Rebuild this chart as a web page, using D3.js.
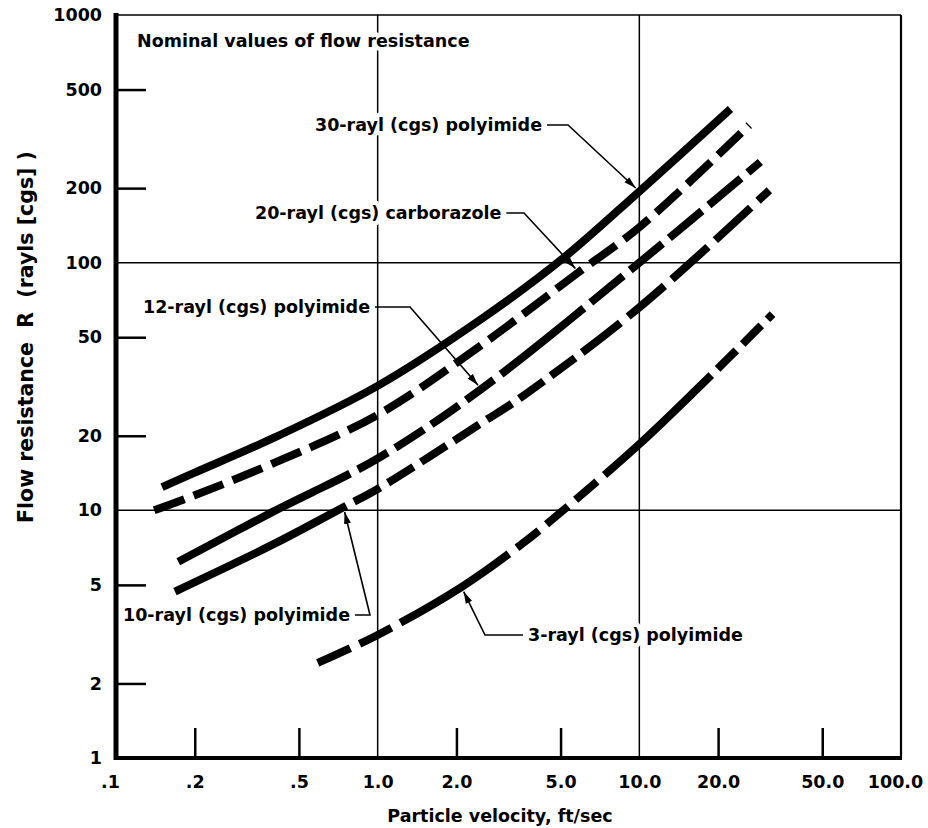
<!DOCTYPE html>
<html>
<head>
<meta charset="utf-8">
<script src="https://cdn.jsdelivr.net/npm/d3@7"></script>
<style>
body { margin: 0; background: #fff; }
text { font-family: "DejaVu Sans", sans-serif; font-weight: bold; fill: #000; }
</style>
</head>
<body>
<div id="chart"></div>
<script>
// values (velocity ft/sec, flow resistance rayls cgs)
const curveNames = ["30-rayl (cgs) polyimide", "20-rayl (cgs) carborazole", "12-rayl (cgs) polyimide",
    "10-rayl (cgs) polyimide", "3-rayl (cgs) polyimide"];

const velocity30 = [0.15, 0.2, 0.4, 1, 2.49, 5.05, 10, 22.3];
const resistance30 = [12.4, 14.2, 19.6, 31.8, 59.2, 103, 194, 417];

const velocity20 = [0.14, 0.2, 0.4, 1, 2.49, 5.87, 10, 26.3];
const resistance20 = [10, 11.5, 15.5, 24.3, 46.5, 91.6, 139, 359];

const velocity12 = [0.173, 0.4, 1, 2.49, 10, 29];
const resistance12 = [6.2, 9.9, 16.2, 30.9, 100, 255];

const velocity10 = [0.168, 0.4, 0.74, 1, 2.49, 3.55, 10, 31.4];
const resistance10 = [4.7, 7.3, 10.3, 12.2, 22.5, 28.7, 66, 196];

const velocity3 = [0.59, 1, 2.09, 3.55, 4.92, 10, 17.4, 32.3];
const resistance3 = [2.42, 3.14, 4.9, 7.3, 9.66, 18.5, 32.4, 62];

// the velocity each callout arrow points at
const calloutAt = [10, 5.87, 2.49, 0.74, 2.09];

const xTicks = [0.1, 0.2, 0.5, 1, 2, 5, 10, 20, 50, 100];
const xTickLabels = [".1", ".2", ".5", "1.0", "2.0", "5.0", "10.0", "20.0", "50.0", "100.0"];
const yTicks = [1, 2, 5, 10, 20, 50, 100, 200, 500, 1000];
const yTickLabels = ["1", "2", "5", "10", "20", "50", "100", "200", "500", "1000"];
const xMinor = [0.2, 0.5, 2, 5, 20, 50];
const yMinor = [2, 5, 20, 50, 200, 500];
const xGrid = [1, 10];
const yGrid = [10, 100];

const series = [
    [velocity30, resistance30], [velocity20, resistance20], [velocity12, resistance12],
    [velocity10, resistance10], [velocity3, resistance3]
].map(([v, r], i) => ({ name: curveNames[i], points: v.map((d, j) => ({ v: d, r: r[j] })) }));

// line styles: pieces along the curve, up to a velocity; on = 0 means solid
const curveStyles = [
    [{ to: null, on: 0 }],
    [{ to: null, on: 32, off: 10 }],
    [{ to: 0.6, on: 0 }, { to: 2.49, on: 34, off: 9 }, { to: 4.6, on: 0 }, { to: null, on: 42, off: 9 }],
    [{ to: 0.6, on: 0 }, { to: 5, on: 30, off: 9 }, { to: null, on: 48, off: 10 }],
    [{ to: 0.95, on: 36, off: 10 }, { to: 2.6, on: 0 }, { to: 6, on: 28, off: 10 }, { to: 16, on: 0 }, { to: null, on: 26, off: 9 }]
];

// callout text placement
const callouts = [
    { tx: 315, ty: 131, side: "right", elbowX: 568 },
    { tx: 255, ty: 219, side: "right", elbowX: 524 },
    { tx: 143, ty: 313, side: "right", elbowX: 410 },
    { tx: 123, ty: 621, side: "right", elbowX: 370 },
    { tx: 528, ty: 641, side: "left", elbowX: 485 }
];

const width = 928, height = 828;
const fontSize = 17.5;

const x = d3.scaleLog().domain([0.1, 100]).range([116, 901]);
const y = d3.scaleLog().domain([1, 1000]).range([758, 15]);

const svg = d3.select("#chart").append("svg")
    .attr("width", width)
    .attr("height", height);

svg.append("rect").attr("width", width).attr("height", height).attr("fill", "#fff");

// grid lines
svg.append("g").selectAll("line").data(xGrid).join("line")
    .attr("x1", d => x(d)).attr("x2", d => x(d))
    .attr("y1", y(1000)).attr("y2", y(1))
    .attr("stroke", "#000").attr("stroke-width", 1.5);

svg.append("g").selectAll("line").data(yGrid).join("line")
    .attr("x1", x(0.1)).attr("x2", x(100))
    .attr("y1", d => y(d)).attr("y2", d => y(d))
    .attr("stroke", "#000").attr("stroke-width", 1.5);

// frame top / right
svg.append("line")
    .attr("x1", x(0.1)).attr("x2", x(100)).attr("y1", y(1000)).attr("y2", y(1000))
    .attr("stroke", "#000").attr("stroke-width", 1.5);
svg.append("line")
    .attr("x1", x(100)).attr("x2", x(100)).attr("y1", y(1000)).attr("y2", y(1))
    .attr("stroke", "#000").attr("stroke-width", 2.2);

// inner tick marks
svg.append("g")
    .attr("transform", `translate(${x(0.1)},0)`)
    .call(d3.axisRight(y).tickValues(yMinor).tickSize(30).tickFormat(""))
    .call(g => g.select(".domain").remove())
    .call(g => g.selectAll("line").attr("stroke-width", 2.5));

svg.append("g")
    .attr("transform", `translate(0,${y(1)})`)
    .call(d3.axisTop(x).tickValues(xMinor).tickSize(30).tickFormat(""))
    .call(g => g.select(".domain").remove())
    .call(g => g.selectAll("line").attr("stroke-width", 2.5));

// tick labels
svg.append("g")
    .attr("transform", `translate(${x(0.1)},0)`)
    .call(d3.axisLeft(y).tickValues(yTicks).tickSize(0).tickPadding(14)
        .tickFormat(d => yTickLabels[yTicks.indexOf(d)]))
    .attr("font-family", null).attr("font-size", fontSize)
    .call(g => g.select(".domain").remove());

const xLabelAxis = svg.append("g")
    .attr("transform", `translate(0,${y(1)})`)
    .call(d3.axisBottom(x).tickValues(xTicks).tickSize(0).tickPadding(18)
        .tickFormat(d => xTickLabels[xTicks.indexOf(d)]))
    .attr("font-family", null).attr("font-size", fontSize)
    .call(g => g.select(".domain").remove());
xLabelAxis.selectAll("text").filter(d => d === 100).attr("dx", -6);
xLabelAxis.selectAll("text").filter(d => d === 0.1).attr("dx", -6);

// heavy axes
svg.append("line")
    .attr("x1", x(0.1)).attr("x2", x(0.1)).attr("y1", y(1000) - 2).attr("y2", y(1) + 2)
    .attr("stroke", "#000").attr("stroke-width", 5);
svg.append("line")
    .attr("x1", x(0.1) - 2).attr("x2", x(100) + 1).attr("y1", y(1)).attr("y2", y(1))
    .attr("stroke", "#000").attr("stroke-width", 4);

// curves
const line = d3.line()
    .x(d => x(d.v))
    .y(d => y(d.r))
    .curve(d3.curveCatmullRom.alpha(0.5));

function lengthAtX(node, px) {
    let lo = 0, hi = node.getTotalLength();
    for (let k = 0; k < 40; k++) {
        const mid = (lo + hi) / 2;
        if (node.getPointAtLength(mid).x < px) lo = mid; else hi = mid;
    }
    return lo;
}

function buildDash(node, pieces) {
    const total = node.getTotalLength();
    const arr = [];
    let pos = 0;
    pieces.forEach(p => {
        const end = p.to == null ? total : lengthAtX(node, x(p.to));
        if (!p.on) {
            if (end > pos) { arr.push(end - pos, 0); pos = end; }
            return;
        }
        while (pos < end) {
            arr.push(p.on, p.off);
            pos += p.on + p.off;
        }
    });
    arr.push(total + 10, 0);
    return arr.map(d => d.toFixed(1)).join(" ");
}

series.forEach((s, i) => {
    const path = svg.append("path")
        .datum(s.points)
        .attr("d", line)
        .attr("fill", "none")
        .attr("stroke", "#000")
        .attr("stroke-width", 8)
        .attr("stroke-linecap", "butt");
    path.attr("stroke-dasharray", buildDash(path.node(), curveStyles[i]));
});

// arrow head
svg.append("defs").append("marker")
    .attr("id", "arrow")
    .attr("markerUnits", "userSpaceOnUse")
    .attr("viewBox", "0 -4 12 8")
    .attr("refX", 12).attr("refY", 0)
    .attr("markerWidth", 12).attr("markerHeight", 8)
    .attr("orient", "auto")
    .append("path")
    .attr("d", "M0,-3.5L12,0L0,3.5Z")
    .attr("fill", "#000");

function haloText(sel) {
    return sel.attr("font-size", fontSize)
        .attr("stroke", "#fff").attr("stroke-width", 9)
        .attr("stroke-linejoin", "round").attr("paint-order", "stroke");
}

svg.append("text")
    .attr("x", 137).attr("y", 47)
    .text("Nominal values of flow resistance")
    .call(haloText);

callouts.forEach((c, i) => {
    const t = svg.append("text")
        .attr("x", c.tx).attr("y", c.ty)
        .text(curveNames[i])
        .call(haloText);
    const len = t.node().getComputedTextLength();
    const ly = c.ty - 6;
    const start = c.side === "right" ? [c.tx + len + 5, ly] : [c.tx - 5, ly];
    const pt = series[i].points.find(d => d.v === calloutAt[i]);
    const tx = x(pt.v), ty = y(pt.r);
    const dx = tx - c.elbowX, dy = ty - ly;
    const dl = Math.hypot(dx, dy);
    const tip = [tx - dx / dl * 5, ty - dy / dl * 5];
    svg.append("path")
        .attr("d", d3.line()([start, [c.elbowX, ly], tip]))
        .attr("fill", "none")
        .attr("stroke", "#000")
        .attr("stroke-width", 1.6)
        .attr("marker-end", "url(#arrow)");
});

// axis titles
svg.append("text")
    .attr("x", 500).attr("y", 822)
    .attr("text-anchor", "middle")
    .attr("font-size", fontSize)
    .text("Particle velocity, ft/sec");

svg.append("text")
    .attr("transform", "translate(33,337) rotate(-90)")
    .attr("text-anchor", "middle")
    .attr("font-size", 20.5)
    .text("Flow resistance\u00a0\u00a0R\u00a0\u00a0(rayls [cgs] )");
</script>
</body>
</html>
